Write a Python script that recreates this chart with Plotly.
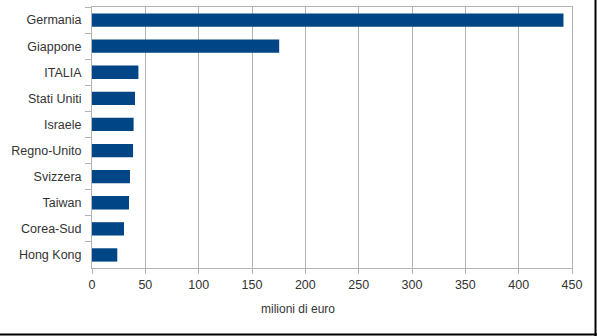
import plotly.graph_objects as go

# Paesi e valori (milioni di euro)
paesi = ["Germania", "Giappone", "ITALIA", "Stati Uniti", "Israele",
         "Regno-Unito", "Svizzera", "Taiwan", "Corea-Sud", "Hong Kong"]
valori = [442, 175.5, 43.5, 40.3, 39, 38.5, 35.6, 34.7, 30, 23.7]
tick_x = [0, 50, 100, 150, 200, 250, 300, 350, 400, 450]

W, H = 597, 336
ML, MR, MT, MB = 92, 25, 7, 68
PW, PH = W - ML - MR, H - MT - MB

fig = go.Figure(go.Bar(
    x=valori, y=paesi, orientation="h",
    marker=dict(color="#004586", line=dict(width=0)),
))

grey = "#b3b3b3"
fig.update_layout(
    width=W, height=H,
    margin=dict(l=ML, r=MR, t=MT, b=MB),
    paper_bgcolor="white", plot_bgcolor="white",
    bargap=0.49,
    showlegend=False,
    font=dict(family="Liberation Sans, Arial, sans-serif", size=12, color="#333333"),
    xaxis=dict(
        range=[0, 450], tickvals=tick_x, ticktext=[str(v) for v in tick_x],
        showgrid=True, gridcolor=grey, gridwidth=1,
        showline=True, linecolor=grey, linewidth=1, mirror=True,
        ticks="outside", ticklen=5, tickcolor=grey, zeroline=False,
        tickfont=dict(size=12.5, color="#333333"),
    ),
    yaxis=dict(
        autorange="reversed", type="category",
        showgrid=False, showline=True, linecolor=grey, linewidth=1, mirror=True,
        ticks="outside", ticklen=6, tickcolor=grey, tickson="boundaries",
        ticklabelstandoff=7,
        tickfont=dict(size=12.5, color="#333333"),
    ),
    annotations=[dict(
        text="milioni di euro", xref="paper", yref="paper",
        x=(297.5 - ML) / PW, y=(MT + PH - 309) / PH,
        xanchor="center", yanchor="middle", showarrow=False,
        font=dict(size=12, color="#333333"),
    )],
    shapes=[
        # cornice esterna (lato destro e inferiore)
        dict(type="line", xref="paper", yref="paper",
             x0=(595.5 - ML) / PW, x1=(595.5 - ML) / PW,
             y0=(MT + PH - 0) / PH, y1=(MT + PH - 336) / PH,
             line=dict(color="black", width=2)),
        dict(type="line", xref="paper", yref="paper",
             x0=(0 - ML) / PW, x1=(597 - ML) / PW,
             y0=(MT + PH - 334.5) / PH, y1=(MT + PH - 334.5) / PH,
             line=dict(color="black", width=2)),
    ],
)

fig.write_html("out.html")
